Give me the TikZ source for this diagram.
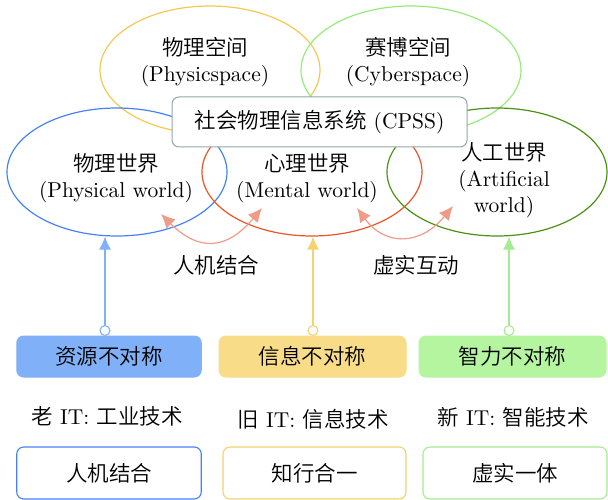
\documentclass[tikz,border=0pt]{standalone}
\usepackage{fontspec}
\setmainfont{lmroman10-regular.otf}
\IfFontExistsTF{Noto Sans CJK SC DemiLight}{\newfontfamily\cjk{Noto Sans CJK SC DemiLight}}{\newfontfamily\cjk{Noto Sans CJK SC}}
\newcommand{\zhtxt}[1]{{\cjk #1}}
\usetikzlibrary{arrows.meta,shapes.geometric}
\definecolor{cBlue}{RGB}{70,130,245}
\definecolor{cRed}{RGB}{232,85,40}
\definecolor{cDGreen}{RGB}{75,145,20}
\definecolor{cYellow}{RGB}{245,200,80}
\definecolor{cLGreen}{RGB}{150,235,120}
\definecolor{cGray}{RGB}{150,165,170}
\definecolor{fBlue}{RGB}{128,176,248}
\definecolor{fYellow}{RGB}{248,220,136}
\definecolor{fGreen}{RGB}{181,245,160}
\definecolor{bYellow}{RGB}{245,210,110}
\definecolor{bGreen}{RGB}{165,235,145}
\definecolor{cSalmon}{RGB}{240,155,135}
\begin{document}
\begin{tikzpicture}[x=1pt,y=-1pt,
  font=\fontsize{21.5}{26}\selectfont,
  ell/.style={ellipse,draw=#1,line width=1.2pt,inner sep=0pt,minimum width=220pt,minimum height=128pt},
  lbl/.style={align=center,inner sep=0pt},
  fbox/.style={rounded corners=7pt,fill=#1,draw=#1,line width=1pt,minimum height=41pt,inner sep=0pt},
  obox/.style={rounded corners=7pt,fill=white,draw=#1,line width=1.1pt,minimum height=52pt,inner sep=0pt},
  varrow/.style={draw=#1,line width=1.1pt,{Circle[fill=white,length=11pt,width=11pt,line width=1.1pt]}-{Latex[length=13pt,width=12pt,fill=#1]}},
  carrow/.style={draw=cSalmon,line width=1.2pt,{Latex[length=14pt,width=13pt]}-{Latex[length=14pt,width=13pt]}}
]
\useasboundingbox (0,0) rectangle (608,500);
% ellipses
\node[ell=cYellow] (eP) at (210,70) {};
\node[ell=cLGreen] (eC) at (411,70) {};
\node[ell=cBlue] (eB) at (117,172) {};
\node[ell=cRed] (eM) at (312,172) {};
\node[ell=cDGreen] (eA) at (497,172) {};
% labels in ellipses
\node[lbl] (tP) at (205,62) {\zhtxt{物理空间}\\(Physicspace)};
\node[lbl] (tC) at (408,62) {\zhtxt{赛博空间}\\(Cyberspace)};
\node[lbl] (tB) at (116,178) {\zhtxt{物理世界}\\(Physical world)};
\node[lbl] (tM) at (307,178) {\zhtxt{心理世界}\\(Mental world)};
\node[lbl] (tA) at (504,180) {\zhtxt{人工世界}\\(Artificial\\world)};
% CPSS box
\node[rounded corners=7pt,draw=cGray,fill=white,line width=1pt,minimum width=295pt,minimum height=50pt,inner sep=0pt] (cpss) at (319.5,122) {\zhtxt{社会物理信息系统} (CPSS)};
% curved arrows
\coordinate (l1) at (161,214);
\coordinate (r1) at (262,208);
\coordinate (l2) at (357,208);
\coordinate (r2) at (453,206);
\draw[carrow] (l1) .. controls (198,251) and (226,251) .. (r1);
\draw[carrow] (l2) .. controls (385,246) and (420,246) .. (r2);
\node[lbl] (h1) at (216,265) {\zhtxt{人机结合}};
\node[lbl] (h2) at (416,265) {\zhtxt{虚实互动}};
% filled boxes
\node[fbox=fBlue,minimum width=184.5pt] (b1) at (109,356.5) {\zhtxt{资源不对称}};
\node[fbox=fYellow,minimum width=187pt] (b2) at (312.5,356.5) {\zhtxt{信息不对称}};
\node[fbox=fGreen,minimum width=187pt] (b3) at (512.5,356.5) {\zhtxt{智力不对称}};
% vertical arrows
\coordinate (a1) at (105,336);
\coordinate (a2) at (313,336);
\coordinate (a3) at (509,336);
\draw[varrow=fBlue] (a1) -- (a1 |- eB.south);
\draw[varrow=bYellow] (a2) -- (a2 |- eM.south);
\draw[varrow=bGreen] (a3) -- (a3 |- eA.south);
% IT labels
\node[lbl] (it1) at (107,416) {\zhtxt{老} IT: \zhtxt{工业技术}};
\node[lbl] (it2) at (313,419) {\zhtxt{旧} IT: \zhtxt{信息技术}};
\node[lbl] (it3) at (513,417) {\zhtxt{新} IT: \zhtxt{智能技术}};
% bottom boxes
\node[obox=cBlue,minimum width=184.5pt] (o1) at (109,473) {\zhtxt{人机结合}};
\node[obox=bYellow,minimum width=183pt] (o2) at (314.5,473) {\zhtxt{知行合一}};
\node[obox=bGreen,minimum width=184pt] (o3) at (515,473) {\zhtxt{虚实一体}};
\end{tikzpicture}
\end{document}
